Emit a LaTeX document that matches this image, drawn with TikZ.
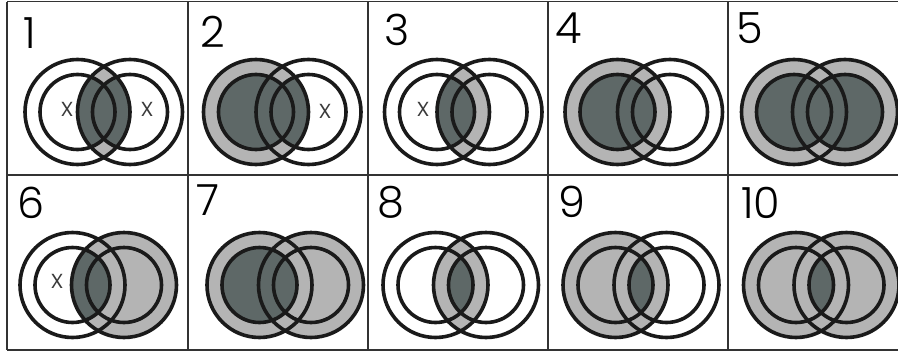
\documentclass[tikz,border=0pt]{standalone}
\usepackage{fontspec}
\newfontfamily\numfont{Poppins Light}
\definecolor{ink}{HTML}{1A1A1A}
\definecolor{framegray}{HTML}{333333}
\definecolor{litegray}{HTML}{B4B4B4}
\definecolor{darkgray}{HTML}{5E6867}
\definecolor{markgray}{HTML}{3A3A3A}
\newcommand{\ro}{52.5pt}
\newcommand{\ri}{37.5pt}
% fill circle #3 (radius #4) inside circle #1 (radius #2)
\newcommand{\cut}[5]{\begin{scope}\clip (#1) circle (#2); \fill[#5] (#3) circle (#4);\end{scope}}
\newcommand{\rings}{\foreach \c in {L,R}{\draw[ring] (\c) circle (\ro) (\c) circle (\ri);}}

\begin{document}
\begin{tikzpicture}[x=1pt,y=-1pt,
  ring/.style={draw=ink,line width=3.6pt},
  lite/.style={fill=litegray},
  dark/.style={fill=darkgray},
  gridline/.style={draw=framegray,line width=1.2pt},
  num/.style={anchor=base west,inner sep=0pt,font=\numfont\fontsize{43}{43}\selectfont},
  xmark/.style={inner sep=0pt,text=markgray,font=\numfont\fontsize{26}{26}\selectfont}]
\useasboundingbox (0,0) rectangle (898,351);
% grid
\draw[gridline] (7,1.5) -- (898,1.5) (7,175) -- (898,175) (7,350) -- (898,350);
\foreach \gx in {7,188,368,548,728}{\draw[gridline] (\gx,1.5) -- (\gx,350);}
% numbers
\node[num] (n1) at (23,48) {1};
\node[num] (n2) at (200,47) {2};
\node[num] (n3) at (384,45) {3};
\node[num] (n4) at (555,43) {4};
\node[num] (n5) at (736,43) {5};
\node[num] (n6) at (17,218) {6};
\node[num] (n7) at (196,215) {7};
\node[num] (n8) at (377,217) {8};
\node[num] (n9) at (558,217) {9};
\node[num] (n10) at (741,218) {10};

% 1
\coordinate (L) at (77.5,112); \coordinate (R) at (130,112);
\cut{L}{\ro}{R}{\ro}{lite}
\cut{L}{\ri}{R}{\ro}{dark}
\cut{R}{\ri}{L}{\ro}{dark}
\rings
\node[xmark] (x1a) at (67,109) {x};
\node[xmark] (x1b) at (147,109) {x};

% 2
\coordinate (L) at (256,112); \coordinate (R) at (308.5,112);
\fill[lite] (L) circle (\ro);
\fill[dark] (L) circle (\ri);
\cut{L}{\ro}{R}{\ri}{dark}
\rings
\node[xmark] (x2) at (325,111) {x};

% 3
\coordinate (L) at (437,112); \coordinate (R) at (489.5,112);
\cut{L}{\ro}{R}{\ro}{lite}
\cut{L}{\ri}{R}{\ro}{dark}
\rings
\node[xmark] (x3) at (423,109) {x};

% 4
\coordinate (L) at (617.5,112); \coordinate (R) at (670,112);
\fill[lite] (L) circle (\ro);
\fill[dark] (L) circle (\ri);
\rings

% 5
\coordinate (L) at (794,112); \coordinate (R) at (845,112);
\fill[lite] (L) circle (\ro) (R) circle (\ro);
\fill[dark] (L) circle (\ri) (R) circle (\ri);
\rings

% 6
\coordinate (L) at (72.5,285); \coordinate (R) at (124,285);
\fill[lite] (R) circle (\ro);
\cut{R}{\ro}{L}{\ri}{dark}
\rings
\node[xmark] (x6) at (57,281) {x};

% 7
\coordinate (L) at (259.5,285); \coordinate (R) at (311,285);
\fill[lite] (L) circle (\ro) (R) circle (\ro);
\fill[dark] (L) circle (\ri);
\rings

% 8
\coordinate (L) at (435.5,285); \coordinate (R) at (486,285);
\cut{L}{\ro}{R}{\ro}{lite}
\cut{L}{\ri}{R}{\ri}{dark}
\rings

% 9
\coordinate (L) at (615.5,285); \coordinate (R) at (666.5,285);
\fill[lite] (L) circle (\ro);
\cut{L}{\ri}{R}{\ri}{dark}
\rings

% 10
\coordinate (L) at (796,285); \coordinate (R) at (846.5,285);
\fill[lite] (L) circle (\ro) (R) circle (\ro);
\cut{L}{\ri}{R}{\ri}{dark}
\rings
\end{tikzpicture}
\end{document}
